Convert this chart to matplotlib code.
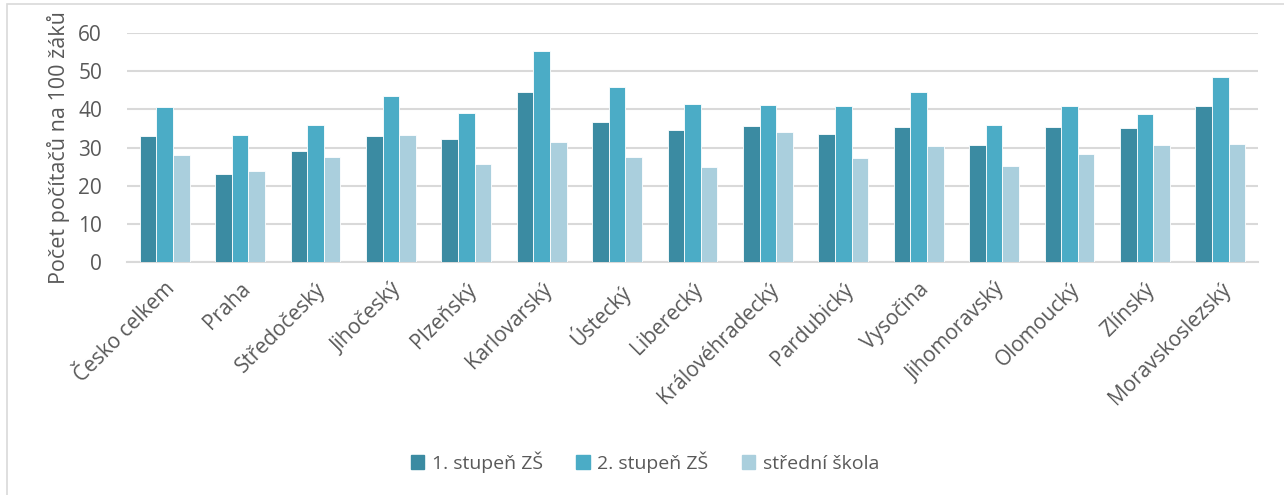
import matplotlib.pyplot as plt
import matplotlib.patches as mpatches
import numpy as np

plt.rcParams['font.family'] = ['Open Sans', 'DejaVu Sans']

regions = ["Česko celkem", "Praha", "Středočeský", "Jihočeský", "Plzeňský",
           "Karlovarský", "Ústecký", "Liberecký", "Královéhradecký", "Pardubický",
           "Vysočina", "Jihomoravský", "Olomoucký", "Zlínský", "Moravskoslezský"]

stupen1 = [32.9, 23.0, 29.1, 32.9, 32.2, 44.6, 36.7, 34.6, 35.6, 33.5,
           35.4, 30.6, 35.5, 35.0, 41.0]
stupen2 = [40.5, 33.2, 35.9, 43.5, 39.0, 55.4, 45.8, 41.3, 41.1, 40.8,
           44.6, 35.8, 40.9, 38.8, 48.5]
stredni = [28.0, 23.8, 27.4, 33.2, 25.7, 31.4, 27.4, 24.8, 34.0, 27.3,
           30.4, 25.1, 28.2, 30.7, 31.0]

series = [("1. stupeň ZŠ", stupen1, "#3B8BA2"),
          ("2. stupeň ZŠ", stupen2, "#4BACC6"),
          ("střední škola", stredni, "#AACFDD")]

text_color = "#595959"

fig = plt.figure(figsize=(12.84, 4.95), dpi=100)
ax = fig.add_axes([127 / 1284, 1 - 262 / 495, (1258 - 127) / 1284, (262 - 33) / 495])

# chart frame (only left/top visible in the original crop)
fig.patches.append(mpatches.Rectangle((7 / 1284, -0.1), 1.2, 1 - 4 / 495 + 0.1,
                                      transform=fig.transFigure, fill=False,
                                      edgecolor="#D9D9D9", linewidth=1.2, zorder=0))

index = np.arange(len(regions))
bar_width = 0.221
for i, (label, vals, color) in enumerate(series):
    ax.bar(index + (i - 1) * bar_width, vals, bar_width, color=color, label=label,
           edgecolor="white", linewidth=0.6, zorder=3)

ax.set_xlim(-0.5, len(regions) - 0.5)
ax.set_ylim(0, 60)
ax.set_yticks(range(0, 61, 10))
ax.yaxis.grid(True, color="#D9D9D9", linewidth=1.5, zorder=0)
for s in ["top", "right", "left"]:
    ax.spines[s].set_visible(False)
ax.spines["bottom"].set_color("#D9D9D9")
ax.spines["bottom"].set_linewidth(1.5)
ax.tick_params(axis="both", length=0, colors=text_color, labelsize=15)
ax.tick_params(axis="y", pad=18)
ax.set_xticks(index)
ax.set_xticklabels(regions, rotation=45, ha="right", rotation_mode="anchor")
ax.tick_params(axis="x", pad=12)

ax.set_ylabel("Počet počítačů na 100 žáků", fontsize=15.5, color=text_color, labelpad=6)

handles = [mpatches.Patch(color=c, label=l) for l, _, c in series]
fig.legend(handles=handles, loc="center", bbox_to_anchor=(645 / 1284, 1 - 462 / 495),
           ncol=3, frameon=False, fontsize=14, labelcolor=text_color,
           handlelength=0.7, handleheight=0.7, handletextpad=0.4, columnspacing=1.7)

fig.savefig("out.png", dpi=100)
